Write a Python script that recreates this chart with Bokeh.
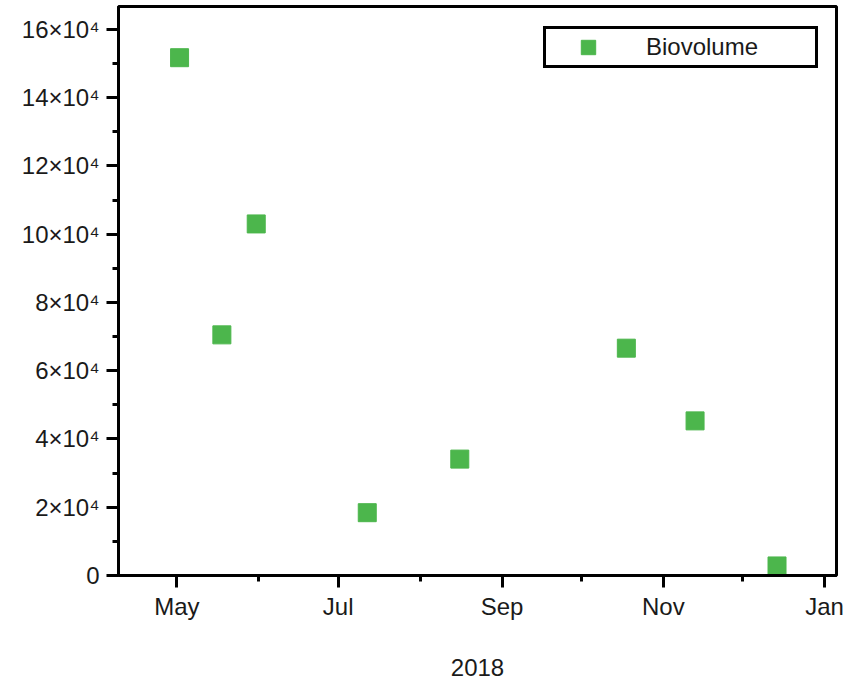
from datetime import datetime
from bokeh.plotting import figure
from bokeh.models import (ColumnDataSource, FixedTicker, DatetimeTickFormatter,
                          CustomJSTickFormatter, Range1d, Legend, LegendItem)
from bokeh.embed import file_html
from bokeh.resources import INLINE

# ---- data ----
dates = ["2018-05-02", "2018-05-18", "2018-05-31", "2018-07-12",
         "2018-08-16", "2018-10-18", "2018-11-13", "2018-12-14"]
biovolume = [151700, 70500, 103000, 18400, 34100, 66600, 45300, 2800]
series_name = "Biovolume"
x_axis_title = "2018"
major_months = ["2018-05-01", "2018-07-01", "2018-09-01", "2018-11-01", "2019-01-01"]
minor_months = ["2018-06-01", "2018-08-01", "2018-10-01", "2018-12-01"]
y_major = [0, 20000, 40000, 60000, 80000, 100000, 120000, 140000, 160000]
y_minor = [10000, 30000, 50000, 70000, 90000, 110000, 130000, 150000]

def ms(s):
    return datetime.strptime(s, "%Y-%m-%d").timestamp() * 1000.0

FONT = "Liberation Sans"
GREEN = "#4CB64C"
FS = "24px"

src = ColumnDataSource(dict(x=[datetime.strptime(d, "%Y-%m-%d") for d in dates],
                            y=biovolume))

day = 86400000.0
x_start = ms("2018-04-08") + 0.9 * day
x_end = ms("2019-01-05") + 0.5 * day

p = figure(width=852, height=683, x_axis_type="datetime",
           output_backend="svg", toolbar_location=None,
           x_range=Range1d(x_start, x_end), y_range=Range1d(0, 166700))
p.min_border_left = 118
p.min_border_right = 16
p.min_border_top = 6
p.min_border_bottom = 108
p.background_fill_color = "white"
p.border_fill_color = "white"
p.outline_line_color = "black"
p.outline_line_width = 3
p.outline_line_alpha = 1
p.xgrid.visible = False
p.ygrid.visible = False

r = p.scatter("x", "y", source=src, marker="square", size=18,
              fill_color=GREEN, line_color=GREEN)

# x axis
xa = p.xaxis[0]
xa.ticker = FixedTicker(ticks=[ms(m) for m in major_months],
                        minor_ticks=[ms(m) for m in minor_months])
xa.formatter = DatetimeTickFormatter(months="%b", days="%b", years="%b")
xa.axis_label = x_axis_title
# y axis
ya = p.yaxis[0]
ya.ticker = FixedTicker(ticks=y_major, minor_ticks=y_minor)
ya.formatter = CustomJSTickFormatter(code="""
    if (tick == 0) { return "0"; }
    return (tick / 10000).toFixed(0) + "\u00d710\u2074";
""")

for ax in (xa, ya):
    ax.axis_line_width = 3
    ax.axis_line_color = "black"
    ax.major_tick_line_width = 3
    ax.minor_tick_line_width = 3
    ax.major_tick_out = 12
    ax.major_tick_in = 0
    ax.minor_tick_out = 6
    ax.minor_tick_in = 0
    ax.major_label_text_font = FONT
    ax.major_label_text_font_size = FS
    ax.major_label_text_color = "#1a1a1a"
    ax.axis_label_text_font = FONT
    ax.axis_label_text_font_size = FS
    ax.axis_label_text_font_style = "normal"
    ax.axis_label_text_color = "#1a1a1a"

xa.major_label_standoff = 5
ya.major_label_standoff = 7
xa.axis_label_standoff = 36

legend = Legend(items=[LegendItem(label=series_name, renderers=[r])],
                location=(425, 507), margin=0, padding=0,
                glyph_width=84, glyph_height=36, label_standoff=16,
                label_width=169, label_height=36,
                label_text_font=FONT, label_text_font_size=FS,
                label_text_color="#1a1a1a",
                border_line_color="black", border_line_width=3,
                border_line_alpha=1,
                background_fill_color="white", background_fill_alpha=1)
p.add_layout(legend, "center")

open("out.html", "w").write(file_html(p, INLINE))
